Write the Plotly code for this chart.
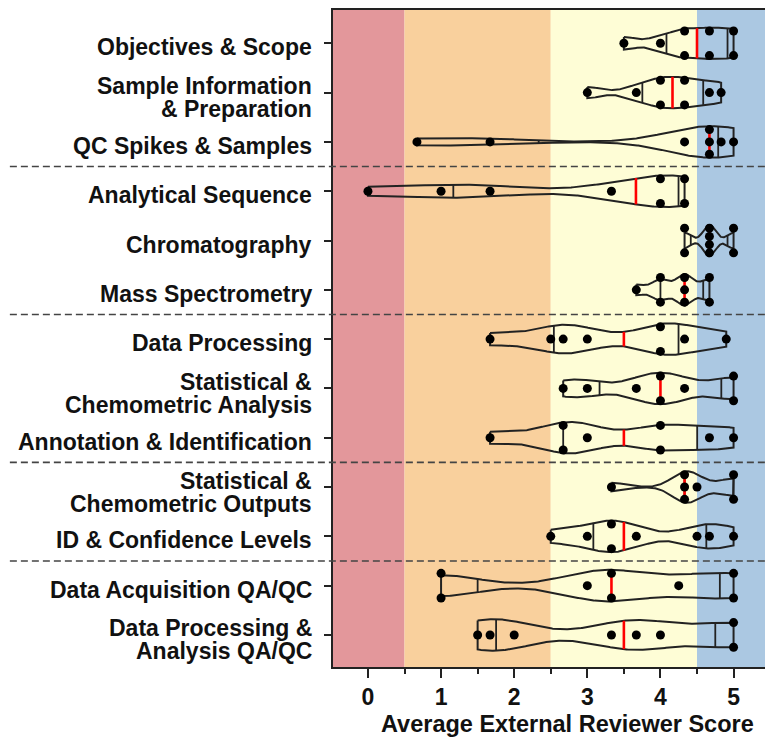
import numpy as np
import plotly.graph_objects as go

# ---------------- data ----------------
categories = [
    "Objectives & Scope",
    "Sample Information<br>& Preparation",
    "QC Spikes & Samples",
    "Analytical Sequence",
    "Chromatography",
    "Mass Spectrometry",
    "Data Processing",
    "Statistical &<br>Chemometric Analysis",
    "Annotation & Identification",
    "Statistical &<br>Chemometric Outputs",
    "ID & Confidence Levels",
    "Data Acquisition QA/QC",
    "Data Processing &<br>Analysis QA/QC",
]

objectives_scope = [3.5, 4.0, 4.33, 4.33, 4.67, 4.67, 5.0, 5.0]
sample_info = [3.0, 3.67, 4.0, 4.0, 4.33, 4.33, 4.67, 4.83]
qc_spikes = [0.67, 1.67, 4.33, 4.67, 4.67, 4.67, 4.83, 5.0]
analytical_seq = [0.0, 1.0, 1.67, 3.33, 4.0, 4.0, 4.33, 4.33]
chromatography = [4.33, 4.33, 4.67, 4.67, 4.67, 4.67, 5.0, 5.0]
mass_spec = [3.67, 4.0, 4.0, 4.33, 4.33, 4.33, 4.67, 4.67]
data_processing = [1.67, 2.5, 2.67, 3.0, 4.0, 4.0, 4.33, 4.9]
stat_analysis = [2.67, 3.0, 3.67, 4.0, 4.0, 4.33, 5.0, 5.0]
annotation_id = [1.67, 2.67, 2.67, 3.0, 4.0, 4.0, 4.67, 5.0]
stat_outputs = [3.33, 4.33, 4.33, 4.33, 4.5, 5.0, 5.0]
id_confidence = [2.5, 3.0, 3.33, 3.33, 3.67, 4.5, 4.67, 5.0]
data_acq_qaqc = [1.0, 1.0, 3.0, 3.33, 3.33, 4.25, 5.0, 5.0]
data_proc_qaqc = [1.5, 1.67, 2.0, 3.33, 3.67, 4.0, 5.0, 5.0]

series = [objectives_scope, sample_info, qc_spikes, analytical_seq, chromatography,
          mass_spec, data_processing, stat_analysis, annotation_id, stat_outputs,
          id_confidence, data_acq_qaqc, data_proc_qaqc]

x_ticks = [0, 1, 2, 3, 4, 5]
band_edges = [0.5, 2.5, 4.5]
group_breaks = [2.5, 5.5, 8.5, 10.5]
x_title = "Average External Reviewer Score"

# ---------------- style ----------------
FONT = "Liberation Sans, Arial, sans-serif"
band_colors = ["rgb(227,151,155)", "rgb(249,208,157)", "rgb(254,253,214)", "rgb(171,200,226)"]
XR = [-0.478, 5.43]
YR = [12.65, -0.675]
HALF_W = 0.32
DOT_SPREAD = 0.25

fig = go.Figure()

outline_x, outline_y = [], []
quart_x, quart_y = [], []
med_x, med_y = [], []
pts_x, pts_y = [], []

for row, vals in enumerate(series):
    v = np.array(vals, dtype=float)
    bw = 0.33 * np.std(v, ddof=1)
    grid = np.linspace(v.min(), v.max(), 300)
    dens = np.exp(-0.5 * ((grid[:, None] - v[None, :]) / bw) ** 2).sum(axis=1)
    w = dens / dens.max() * HALF_W
    outline_x += list(grid) + list(grid[::-1]) + [grid[0], None]
    outline_y += list(row - w) + list((row + w)[::-1]) + [row - w[0], None]

    q1, q3 = np.percentile(v, [25, 75], method="weibull")
    med = np.median(v)
    for q in (q1, q3):
        hw = np.interp(q, grid, w)
        quart_x += [q, q, None]
        quart_y += [row - hw, row + hw, None]
    hw = np.interp(med, grid, w)
    med_x += [med, med, None]
    med_y += [row - hw, row + hw, None]

    uniq, counts = np.unique(v, return_counts=True)
    for u, c in zip(uniq, counts):
        offs = [0.0] if c == 1 else list(np.linspace(-DOT_SPREAD, DOT_SPREAD, c))
        for o in offs:
            pts_x.append(u)
            pts_y.append(row + o)

fig.add_trace(go.Scatter(x=outline_x, y=outline_y, mode="lines",
                         line=dict(color="#222222", width=2), hoverinfo="skip"))
fig.add_trace(go.Scatter(x=quart_x, y=quart_y, mode="lines",
                         line=dict(color="#222222", width=1.8), hoverinfo="skip"))
fig.add_trace(go.Scatter(x=med_x, y=med_y, mode="lines",
                         line=dict(color="#ff0000", width=2.6), hoverinfo="skip"))
fig.add_trace(go.Scatter(x=pts_x, y=pts_y, mode="markers",
                         marker=dict(color="black", size=9), hoverinfo="skip"))

# background bands
edges = [XR[0]] + band_edges + [XR[1]]
for i, col in enumerate(band_colors):
    fig.add_shape(type="rect", xref="x", yref="paper", x0=edges[i], x1=edges[i + 1],
                  y0=0, y1=1, fillcolor=col, line_width=0, layer="below")

# group separators
for gb in group_breaks:
    fig.add_shape(type="line", xref="paper", yref="y", x0=-0.748, x1=1, y0=gb, y1=gb,
                  line=dict(color="#444444", width=1.6, dash="7px,4px"), layer="above")

# y labels as annotations
for row, lab in enumerate(categories):
    lines = lab.split("<br>")
    if len(lines) == 1:
        shifts = [-4]
    else:
        shifts = [6.5, -16.5]
    for txt, sh in zip(lines, shifts):
        fig.add_annotation(x=0, xref="paper", y=row, yref="y", text="<b>%s</b>" % txt,
                           xanchor="right", yanchor="middle", xshift=-19, yshift=sh,
                           showarrow=False, font=dict(family=FONT, size=23, color="#111111"))

fig.add_annotation(x=(567 - 333) / 432, xref="paper", y=0, yref="paper",
                   text="<b>%s</b>" % x_title, xanchor="center", yanchor="middle",
                   yshift=-57, showarrow=False,
                   font=dict(family=FONT, size=23.5, color="#111111"))

fig.update_layout(
    width=765, height=737,
    margin=dict(l=333, r=0, t=10, b=70),
    paper_bgcolor="white", plot_bgcolor="white",
    showlegend=False,
    xaxis=dict(range=XR, tickvals=x_ticks, ticktext=["<b>%d</b>" % t for t in x_ticks],
               ticks="outside", ticklen=9, tickwidth=1.5, tickcolor="#222",
               minor=dict(tickvals=[0.5, 1.5, 2.5, 3.5, 4.5], ticks="outside", ticklen=5,
                          tickwidth=1.5, tickcolor="#222"),
               showline=True, linecolor="#222", linewidth=1.5, mirror=True,
               showgrid=False, zeroline=False,
               tickfont=dict(family=FONT, size=23, color="#111111")),
    yaxis=dict(range=YR, tickvals=list(range(len(categories))), showticklabels=False,
               ticks="outside", ticklen=7, tickwidth=1.5, tickcolor="#222",
               showline=True, linecolor="#222", linewidth=1.5, mirror=False,
               showgrid=False, zeroline=False),
)

fig.write_html("out.html", config={"displayModeBar": False},
               post_script="document.body.style.margin='0';document.body.style.overflow='hidden';")
